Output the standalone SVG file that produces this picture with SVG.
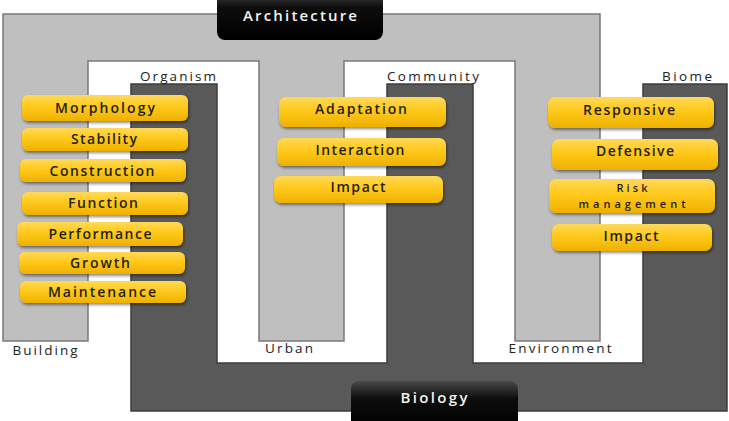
<svg xmlns="http://www.w3.org/2000/svg" width="729" height="421" viewBox="0 0 729 421">
  <defs>
    <linearGradient id="gold" x1="0" y1="0" x2="0" y2="1">
      <stop offset="0" stop-color="#ffd95a"/>
      <stop offset="0.45" stop-color="#ffc91a"/>
      <stop offset="1" stop-color="#eeb000"/>
    </linearGradient>
    <linearGradient id="ink" x1="0" y1="0" x2="0" y2="1">
      <stop offset="0" stop-color="#4a4a4a"/>
      <stop offset="0.35" stop-color="#0d0d0d"/>
      <stop offset="1" stop-color="#000"/>
    </linearGradient>
    <filter id="shadow" x="-10%" y="-30%" width="125%" height="170%">
      <feDropShadow dx="1" dy="2" stdDeviation="1.4" flood-color="#000" flood-opacity="0.45"/>
    </filter>
  </defs>
  <style>
    .light { fill: #bfbfbf; stroke: #7a7a7a; stroke-width: 1.5; }
    .dark { fill: #595959; stroke: #3c3c3c; stroke-width: 1.5; }
    .item rect { fill: url(#gold); filter: url(#shadow); }
    .item text { font-family: "Open Sans", "Liberation Sans", sans-serif; font-size: 14px; font-weight: 600; fill: #1f1f1f; text-anchor: middle; }
    .item text.small { font-size: 11px; }
    .tag { font-family: "Open Sans", "Liberation Sans", sans-serif; font-size: 13.5px; fill: #222; text-anchor: middle; }
    .title rect { fill: url(#ink); }
    .title text { font-family: "Open Sans", "Liberation Sans", sans-serif; font-size: 15px; font-weight: 600; fill: #f2f2f2; text-anchor: middle; }
  </style>

  <rect width="729" height="421" fill="#fff"/>

  <!-- interlocking comb bands -->
  <g id="bands">
    <path class="light" d="M3,14 H600 V341 H515 V61 H344 V341 H259 V61 H88 V341 H3 Z"/>
    <path class="dark" d="M131,84 H217 V363 H387 V84 H473 V363 H643 V84 H727 V411 H131 Z"/>
  </g>

  <!-- level labels -->
  <g id="labels">
    <text class="tag" x="178" y="81" textLength="76" lengthAdjust="spacing">Organism</text>
    <text class="tag" x="433" y="81" textLength="92" lengthAdjust="spacing">Community</text>
    <text class="tag" x="687" y="81" textLength="50" lengthAdjust="spacing">Biome</text>
    <text class="tag" x="45" y="355" textLength="65" lengthAdjust="spacing">Building</text>
    <text class="tag" x="289" y="353" textLength="48" lengthAdjust="spacing">Urban</text>
    <text class="tag" x="560" y="353" textLength="103" lengthAdjust="spacing">Environment</text>
  </g>

  <!-- title boxes -->
  <g id="architecture" class="title">
    <rect x="217" y="-10" width="166" height="50" rx="8"/>
    <text x="300" y="21" textLength="114" lengthAdjust="spacing">Architecture</text>
  </g>
  <g id="biology" class="title">
    <rect x="351" y="381" width="167" height="50" rx="8"/>
    <text x="434" y="403" textLength="67" lengthAdjust="spacing">Biology</text>
  </g>

  <!-- organism / building items -->
  <g id="morphology" class="item">
    <rect x="22" y="95" width="166" height="26" rx="6"/>
    <text x="105" y="113" textLength="100" lengthAdjust="spacing">Morphology</text>
  </g>
  <g id="stability" class="item">
    <rect x="22" y="128" width="166" height="23" rx="6"/>
    <text x="104" y="144" textLength="66" lengthAdjust="spacing">Stability</text>
  </g>
  <g id="construction" class="item">
    <rect x="20" y="159" width="166" height="23" rx="6"/>
    <text x="102" y="176" textLength="105" lengthAdjust="spacing">Construction</text>
  </g>
  <g id="function" class="item">
    <rect x="22" y="192" width="166" height="23" rx="6"/>
    <text x="103" y="208" textLength="70" lengthAdjust="spacing">Function</text>
  </g>
  <g id="performance" class="item">
    <rect x="17" y="222" width="166" height="24" rx="6"/>
    <text x="100" y="239" textLength="103" lengthAdjust="spacing">Performance</text>
  </g>
  <g id="growth" class="item">
    <rect x="19" y="252" width="166" height="22" rx="6"/>
    <text x="100" y="268" textLength="60" lengthAdjust="spacing">Growth</text>
  </g>
  <g id="maintenance" class="item">
    <rect x="20" y="281" width="166" height="22" rx="6"/>
    <text x="102" y="297" textLength="108" lengthAdjust="spacing">Maintenance</text>
  </g>

  <!-- community / urban items -->
  <g id="adaptation" class="item">
    <rect x="279" y="97" width="167" height="30" rx="7"/>
    <text x="361" y="114" textLength="92" lengthAdjust="spacing">Adaptation</text>
  </g>
  <g id="interaction" class="item">
    <rect x="277" y="138" width="169" height="28" rx="7"/>
    <text x="360" y="155" textLength="89" lengthAdjust="spacing">Interaction</text>
  </g>
  <g id="impact-urban" class="item">
    <rect x="274" y="176" width="169" height="27" rx="7"/>
    <text x="358" y="192" textLength="55" lengthAdjust="spacing">Impact</text>
  </g>

  <!-- biome / environment items -->
  <g id="responsive" class="item">
    <rect x="548" y="97" width="166" height="31" rx="7"/>
    <text x="629" y="115" textLength="92" lengthAdjust="spacing">Responsive</text>
  </g>
  <g id="defensive" class="item">
    <rect x="552" y="139" width="166" height="31" rx="7"/>
    <text x="635" y="156" textLength="78" lengthAdjust="spacing">Defensive</text>
  </g>
  <g id="risk-management" class="item">
    <rect x="549" y="179" width="166" height="34" rx="7"/>
    <text class="small" x="632" y="192" textLength="31" lengthAdjust="spacing">Risk</text>
    <text class="small" x="632" y="208" textLength="107" lengthAdjust="spacing">management</text>
  </g>
  <g id="impact-environment" class="item">
    <rect x="552" y="224" width="160" height="27" rx="7"/>
    <text x="631" y="241" textLength="55" lengthAdjust="spacing">Impact</text>
  </g>
</svg>
